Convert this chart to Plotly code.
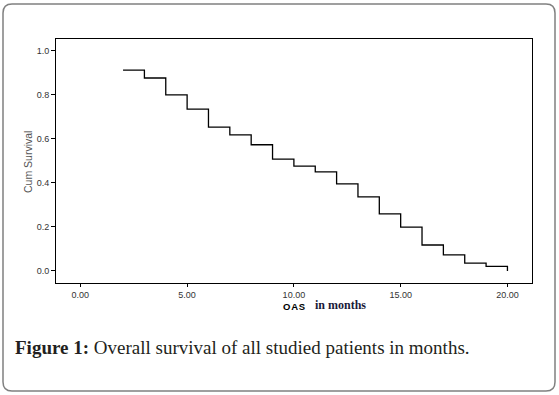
import plotly.graph_objects as go

# ---- data ----
months = [2, 3, 4, 5, 6, 7, 8, 9, 10, 11, 12, 13, 14, 15, 16, 17, 18, 19, 20]
cum_survival = [0.912, 0.876, 0.799, 0.735, 0.653, 0.618, 0.573, 0.508, 0.476,
                0.450, 0.395, 0.336, 0.259, 0.199, 0.118, 0.073, 0.036, 0.021, 0.0]
x_ticks = [0, 5, 10, 15, 20]
y_ticks = [0.0, 0.2, 0.4, 0.6, 0.8, 1.0]

W, H = 559, 395
L, R, T, B = 56, 532, 39, 283


def px(x):
    return (x - L) / (R - L)


def py(y):
    return (B - y) / (B - T)


fig = go.Figure()
fig.add_trace(go.Scatter(
    x=months, y=cum_survival, mode="lines", line_shape="hv",
    line=dict(color="#000000", width=1.3), showlegend=False, hoverinfo="skip"))

tickfont = dict(family="Liberation Sans, Arial, sans-serif", size=9, color="#333333")

fig.update_xaxes(range=[-1.14, 21.15], tickvals=x_ticks, tickformat=".2f",
                 showgrid=False, zeroline=False, showline=True, mirror=True,
                 linecolor="#000000", linewidth=1, ticks="outside", ticklen=3,
                 tickcolor="#000000", tickfont=tickfont)
fig.update_yaxes(range=[-0.0545, 1.053], tickvals=y_ticks, tickformat=".1f",
                 showgrid=False, zeroline=False, showline=True, mirror=True,
                 linecolor="#000000", linewidth=1, ticks="outside", ticklen=4,
                 tickcolor="#000000", tickfont=tickfont)

# outer rounded frame
l0, r0, t0, b0, rad = 3, 555, 4, 391, 9
path = (f"M {px(l0+rad)},{py(t0)} L {px(r0-rad)},{py(t0)} "
        f"Q {px(r0)},{py(t0)} {px(r0)},{py(t0+rad)} "
        f"L {px(r0)},{py(b0-rad)} Q {px(r0)},{py(b0)} {px(r0-rad)},{py(b0)} "
        f"L {px(l0+rad)},{py(b0)} Q {px(l0)},{py(b0)} {px(l0)},{py(b0-rad)} "
        f"L {px(l0)},{py(t0+rad)} Q {px(l0)},{py(t0)} {px(l0+rad)},{py(t0)} Z")
fig.add_shape(type="path", path=path, xref="paper", yref="paper",
              line=dict(color="#808080", width=1.5), layer="below")

annotations = [
    dict(text="Cum Survival", x=px(28), y=py(162), textangle=-90,
         font=dict(family="Liberation Sans, Arial, sans-serif", size=10.5, color="#555555")),
    dict(text="<b>O\u200aA\u200aS</b>", x=px(294), y=py(306),
         font=dict(family="Liberation Sans, Arial, sans-serif", size=9.5, color="#000000")),
    dict(text="<b>in months</b>", x=px(340), y=py(305),
         font=dict(family="Liberation Serif, Times New Roman, serif", size=12, color="#1a1a3a")),
    dict(text="<b>Figure 1:</b> Overall survival of all studied patients in months.",
         x=px(13), y=py(347), xanchor="left",
         font=dict(family="Liberation Serif, Times New Roman, serif", size=19, color="#231f20")),
]
for a in annotations:
    a.setdefault("xanchor", "center")
    a.update(xref="paper", yref="paper", yanchor="middle", showarrow=False)
    fig.add_annotation(**a)

fig.update_layout(width=W, height=H, margin=dict(l=L, r=W - R, t=T, b=H - B),
                  paper_bgcolor="white", plot_bgcolor="white")

fig.write_html("out.html", config={"displayModeBar": False},
               post_script="document.body.style.margin='0';")
